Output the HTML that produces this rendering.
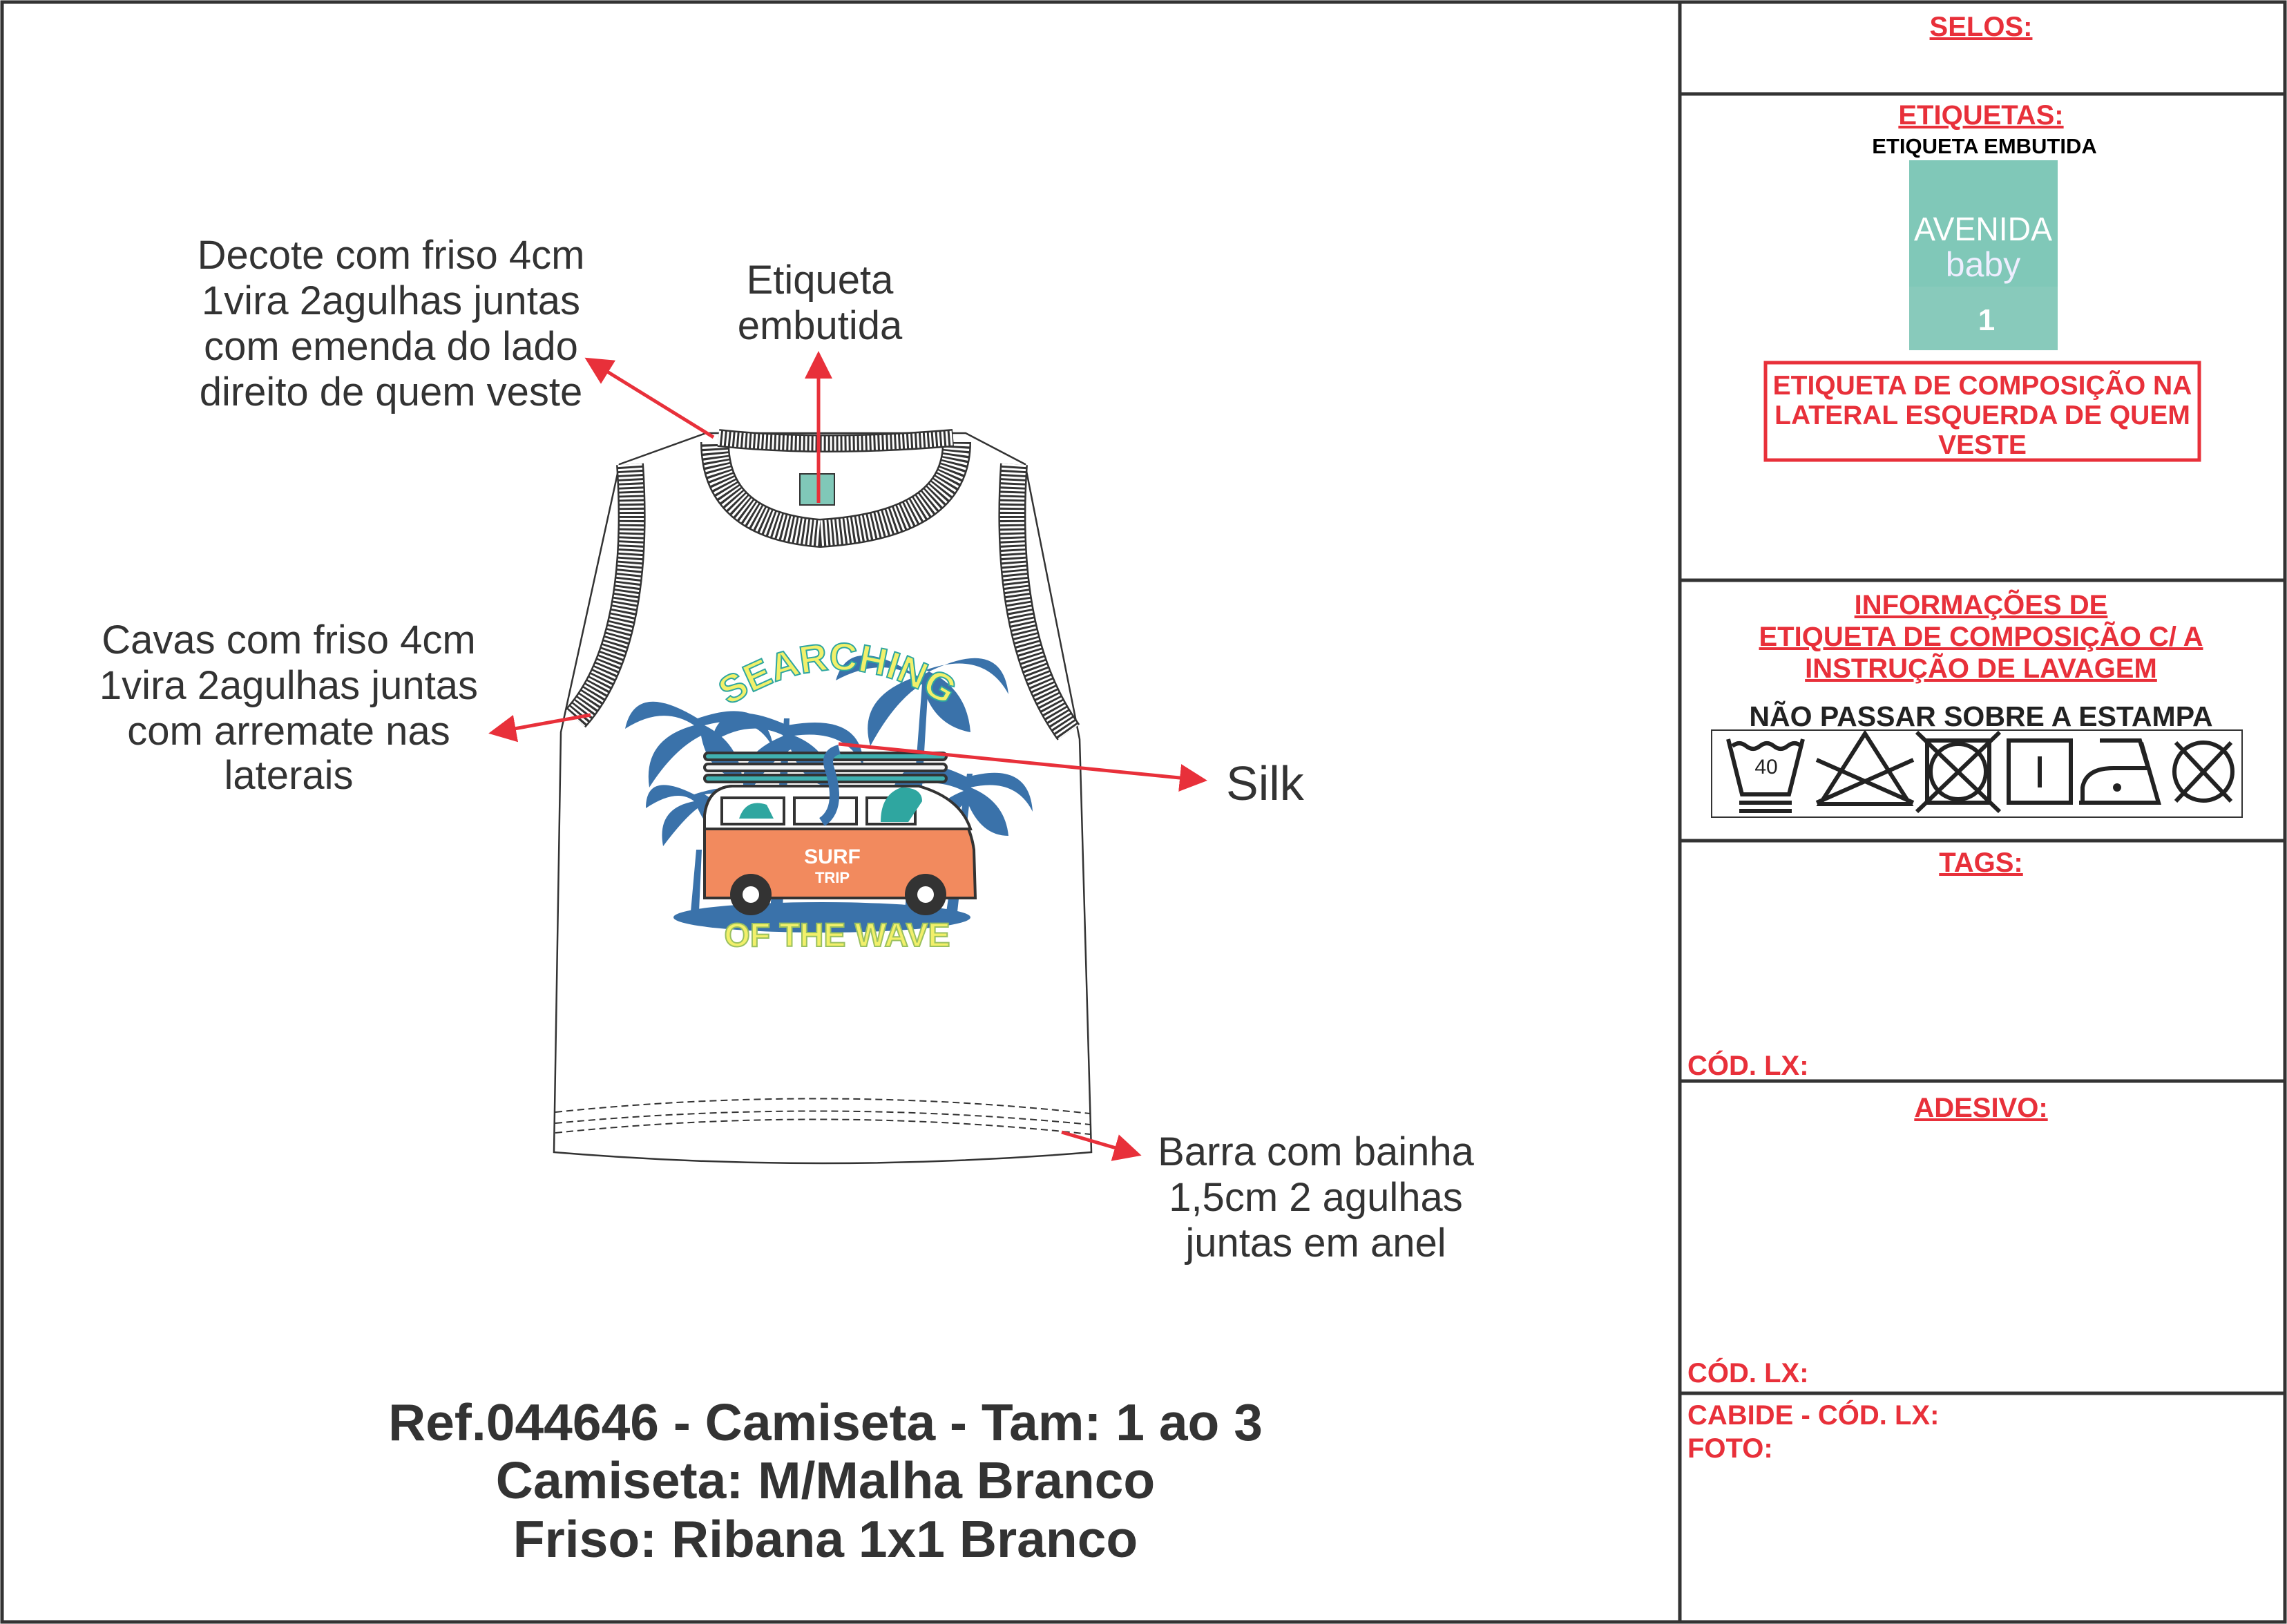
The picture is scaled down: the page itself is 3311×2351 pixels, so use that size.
<!DOCTYPE html>
<html><head><meta charset="utf-8"><style>
html,body{margin:0;padding:0;background:#fff}
svg{display:block}
text{font-family:"Liberation Sans",Arial,sans-serif}
</style></head><body>
<svg width="3311" height="2351" viewBox="0 0 3311 2351" xmlns="http://www.w3.org/2000/svg">
<rect x="3" y="3" width="3305" height="2345" fill="#fff" stroke="#333" stroke-width="5"/>
<line x1="2432" y1="3" x2="2432" y2="2348" stroke="#333" stroke-width="5"/>
<g stroke="#333" stroke-width="5">
<line x1="2432" y1="136" x2="3308" y2="136"/>
<line x1="2432" y1="840" x2="3308" y2="840"/>
<line x1="2432" y1="1217" x2="3308" y2="1217"/>
<line x1="2432" y1="1565" x2="3308" y2="1565"/>
<line x1="2432" y1="2017" x2="3308" y2="2017"/>
</g>
<g fill="#e8303a" font-weight="bold" font-size="40" text-anchor="middle" text-decoration="underline">
<text x="2868" y="52">SELOS:</text>
<text x="2868" y="180">ETIQUETAS:</text>
<text x="2868" y="889">INFORMAÇÕES DE</text>
<text x="2868" y="935">ETIQUETA DE COMPOSIÇÃO C/ A</text>
<text x="2868" y="981">INSTRUÇÃO DE LAVAGEM</text>
<text x="2868" y="1262">TAGS:</text>
<text x="2868" y="1617">ADESIVO:</text>
</g>
<text x="2873" y="222" font-size="31" font-weight="bold" text-anchor="middle" fill="#000">ETIQUETA EMBUTIDA</text>
<rect x="2764" y="232" width="215" height="275" fill="#80c8b8"/>
<rect x="2764" y="415" width="215" height="92" fill="#88cabb"/>
<text x="2871" y="348" font-size="48" fill="#fff" text-anchor="middle" textLength="200" lengthAdjust="spacingAndGlyphs">AVENIDA</text>
<text x="2871" y="400" font-size="50" fill="#eef" text-anchor="middle">baby</text>
<text x="2876" y="478" font-size="44" font-weight="bold" fill="#fff" text-anchor="middle">1</text>
<rect x="2556" y="525" width="628" height="141" fill="none" stroke="#e8303a" stroke-width="5"/>
<g fill="#e8303a" font-weight="bold" font-size="39" text-anchor="middle">
<text x="2870" y="571">ETIQUETA DE COMPOSIÇÃO NA</text>
<text x="2870" y="614">LATERAL ESQUERDA DE QUEM</text>
<text x="2870" y="657">VESTE</text>
</g>
<text x="2868" y="1051" font-size="41" font-weight="bold" text-anchor="middle" fill="#222">NÃO PASSAR SOBRE A ESTAMPA</text>
<rect x="2478" y="1057" width="768" height="126" fill="none" stroke="#333" stroke-width="2"/>
<g stroke="#222" stroke-width="6" fill="none">
<path d="M2502,1070 L2522,1150 L2590,1150 L2610,1070"/>
<path d="M2508,1080 q10,-8 20,0 q10,8 20,0 q10,-8 20,0 q10,8 20,0 q10,-8 20,0"/>
<line x1="2518" y1="1162" x2="2594" y2="1162"/><line x1="2518" y1="1174" x2="2594" y2="1174"/>
<path d="M2635,1164 L2700,1062 L2765,1164 Z"/>
<line x1="2630" y1="1100" x2="2770" y2="1162"/><line x1="2630" y1="1162" x2="2770" y2="1100"/>
<rect x="2790" y="1072" width="90" height="90"/><circle cx="2835" cy="1117" r="40"/>
<line x1="2775" y1="1060" x2="2895" y2="1175"/><line x1="2895" y1="1060" x2="2775" y2="1175"/>
<rect x="2908" y="1072" width="90" height="90"/><line x1="2953" y1="1095" x2="2953" y2="1140"/>
<path d="M3015,1162 L3015,1140 Q3020,1112 3060,1112 L3110,1112 L3098,1072 L3040,1072 M3010,1162 L3125,1162 L3100,1075"/>
<circle cx="3190" cy="1117" r="42"/>
<line x1="3150" y1="1075" x2="3230" y2="1160"/><line x1="3230" y1="1075" x2="3150" y2="1160"/>
</g>
<circle cx="3065" cy="1140" r="6" fill="#222"/>
<text x="2557" y="1120" font-size="30" text-anchor="middle" fill="#222">40</text>
<g fill="#e8303a" font-weight="bold" font-size="40">
<text x="2443" y="1556">CÓD. LX:</text>
<text x="2443" y="2001">CÓD. LX:</text>
<text x="2443" y="2062">CABIDE - CÓD. LX:</text>
<text x="2443" y="2110">FOTO:</text>
</g>

<!-- shirt -->
<path d="M897,672 L1022,627 L1398,627 L1484,672 L1563,1070 L1580,1668 Q1190,1700 802,1668 L812,1060 Z" fill="#fff" stroke="#333" stroke-width="2.5"/>
<g fill="none">
<path d="M912,672 C922,820 905,960 833,1040" stroke="#333" stroke-width="40"/>
<path d="M912,672 C922,820 905,960 833,1040" stroke="#fff" stroke-width="35" stroke-dasharray="3 3"/>
<path d="M1468,672 C1458,820 1475,960 1547,1060" stroke="#333" stroke-width="40"/>
<path d="M1468,672 C1458,820 1475,960 1547,1060" stroke="#fff" stroke-width="35" stroke-dasharray="3 3"/>
<path d="M1035,640 Q1035,760 1187,772 Q1385,760 1385,640" stroke="#333" stroke-width="42"/>
<path d="M1035,640 Q1035,760 1187,772 Q1385,760 1385,640" stroke="#fff" stroke-width="37" stroke-dasharray="3 3"/>
<path d="M1040,634 Q1190,650 1380,634" stroke="#333" stroke-width="26"/>
<path d="M1040,634 Q1190,650 1380,634" stroke="#fff" stroke-width="21" stroke-dasharray="3 3"/>
<path d="M804,1610 Q1190,1570 1578,1612" stroke="#333" stroke-width="2" stroke-dasharray="10 6"/>
<path d="M804,1626 Q1190,1590 1578,1628" stroke="#333" stroke-width="2" stroke-dasharray="10 6"/>
<path d="M804,1640 Q1190,1600 1578,1642" stroke="#333" stroke-width="2" stroke-dasharray="10 6"/>
</g>
<rect x="1158" y="686" width="50" height="45" fill="#80c8b8" stroke="#333" stroke-width="2"/>

<!-- graphic -->
<g fill="#3a72aa">
<ellipse cx="1190" cy="1328" rx="215" ry="22"/>
<path d="M1000,1320 l8,-90 l8,0 l-4,90z M1115,1320 l20,-280 l8,0 l-10,280z M1310,1320 l25,-330 l9,0 l-20,330z M1370,1320 l30,-200 l8,0 l-22,200z"/>
<path d="M1005,1150 q-70,-35 -70,20 q45,-30 70,-10 q-55,10 -45,65 q30,-40 50,-55 q20,45 55,45 q-10,-45 -45,-65 q65,-10 75,35 q0,-65 -90,-35z"/>
<path d="M1010,1040 q-90,-55 -105,15 q55,-35 100,-5 q-75,20 -65,90 q35,-55 75,-75 q10,55 60,65 q-5,-55 -55,-80 q75,-20 100,35 q-10,-80 -110,-45z"/>
<path d="M1140,1050 q-100,-45 -110,25 q55,-35 105,-10 q-75,30 -55,90 q35,-55 65,-70 q20,55 65,55 q-10,-55 -60,-75 q75,-10 100,45 q0,-80 -110,-60z"/>
<path d="M1330,980 q-100,-65 -120,5 q65,-35 115,-5 q-85,30 -65,100 q35,-65 75,-90 q15,60 70,70 q-5,-65 -65,-90 q85,-30 120,35 q-10,-90 -130,-25z"/>
<path d="M1400,1125 q-90,-45 -110,25 q55,-30 105,-5 q-65,25 -55,90 q35,-55 60,-75 q20,50 60,50 q-5,-50 -55,-70 q65,-15 90,35 q-5,-75 -95,-50z"/>
</g>
<g stroke="#333" stroke-width="4">
<rect x="1020" y="1090" width="350" height="10" rx="5" fill="#40b0b0"/>
<rect x="1020" y="1106" width="350" height="10" rx="5" fill="#f5f5f5"/>
<rect x="1020" y="1122" width="350" height="10" rx="5" fill="#40b0b0"/>
</g>
<path d="M1020,1300 L1020,1180 Q1025,1140 1060,1138 L1330,1138 Q1400,1160 1410,1230 L1412,1300 Z" fill="#f28a5e" stroke="#333" stroke-width="4"/>
<path d="M1020,1200 L1020,1180 Q1025,1140 1060,1138 L1330,1138 Q1390,1155 1405,1200 Z" fill="#fff" stroke="#333" stroke-width="4"/>
<g fill="#fff" stroke="#333" stroke-width="4">
<rect x="1045" y="1155" width="90" height="38"/><rect x="1150" y="1155" width="90" height="38"/><rect x="1255" y="1155" width="70" height="38"/>
</g>
<path d="M1070,1185 q10,-30 40,-20 l10,20z M1275,1190 q0,-40 30,-50 q30,0 30,20 l-20,30z" fill="#2fa6a0"/>
<path d="M1190,1190 q30,-20 10,-80 q-5,-20 15,-25" stroke="#3a72aa" stroke-width="14" fill="none"/>
<circle cx="1087" cy="1295" r="30" fill="#333"/><circle cx="1087" cy="1295" r="12" fill="#fff"/>
<circle cx="1340" cy="1295" r="30" fill="#333"/><circle cx="1340" cy="1295" r="12" fill="#fff"/>
<text x="1205" y="1250" font-size="30" fill="#fff" text-anchor="middle" font-weight="bold">SURF</text>
<text x="1205" y="1278" font-size="22" fill="#fff" text-anchor="middle" font-weight="bold">TRIP</text>
<defs><path id="arc" d="M1030,1040 Q1215,900 1395,1040"/></defs>
<text font-size="56" font-weight="bold" fill="#f2f06a" stroke="#2fa6a0" stroke-width="2"><textPath href="#arc" startOffset="50%" text-anchor="middle">SEARCHING</textPath></text>
<text x="1212" y="1370" font-size="48" font-weight="bold" fill="#f2f06a" stroke="#9ac060" stroke-width="2" text-anchor="middle">OF THE WAVE</text>

<!-- labels -->
<g fill="#333" font-size="58" text-anchor="middle">
<text x="566" y="389">Decote com friso 4cm</text>
<text x="566" y="455">1vira 2agulhas juntas</text>
<text x="566" y="521">com emenda do lado</text>
<text x="566" y="587">direito de quem veste</text>
<text x="1187" y="425">Etiqueta</text>
<text x="1187" y="491">embutida</text>
<text x="418" y="946">Cavas com friso 4cm</text>
<text x="418" y="1012">1vira 2agulhas juntas</text>
<text x="418" y="1078">com arremate nas</text>
<text x="418" y="1142">laterais</text>
<text x="1905" y="1687">Barra com bainha</text>
<text x="1905" y="1753">1,5cm 2 agulhas</text>
<text x="1905" y="1819">juntas em anel</text>
</g>
<text x="1775" y="1158" font-size="70" fill="#333">Silk</text>
<g fill="#333" font-size="75" font-weight="bold" text-anchor="middle">
<text x="1195" y="2085">Ref.044646 - Camiseta - Tam: 1 ao 3</text>
<text x="1195" y="2169">Camiseta: M/Malha Branco</text>
<text x="1195" y="2254">Friso: Ribana 1x1 Branco</text>
</g>

<!-- arrows -->
<defs><marker id="ah" markerWidth="8" markerHeight="8" refX="6" refY="4" orient="auto" markerUnits="strokeWidth"><path d="M0,0 L8,4 L0,8 Z" fill="#e8303a"/></marker></defs>
<g stroke="#e8303a" stroke-width="5" fill="none" marker-end="url(#ah)">
<line x1="1033" y1="633" x2="855" y2="523"/>
<line x1="1185" y1="728" x2="1185" y2="518"/>
<line x1="855" y1="1035" x2="717" y2="1060"/>
<line x1="1214" y1="1077" x2="1738" y2="1129"/>
<line x1="1537" y1="1639" x2="1643" y2="1670"/>
</g>
</svg>
</body></html>
